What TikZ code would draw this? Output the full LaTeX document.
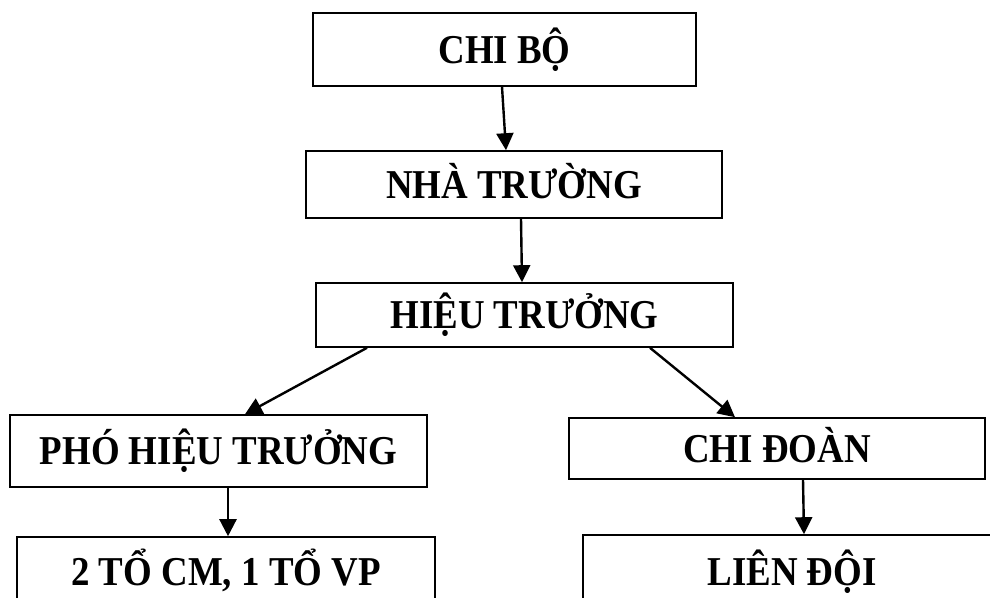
\documentclass[tikz,border=0pt]{standalone}
\usepackage{fontspec}
\setmainfont[FakeStretch=0.9]{Liberation Serif}
\usetikzlibrary{arrows.meta}
\begin{document}
\begin{tikzpicture}[x=1pt,y=-1pt,
  box/.style={draw, line width=1.6pt, inner sep=0pt,
    font=\fontsize{41}{48}\selectfont\bfseries,
    text height=27pt, text depth=0pt, align=center},
  conn/.style={line width=2.4pt, -{Triangle[length=17pt,width=17pt]}}]
\useasboundingbox (0,0) rectangle (990,597);
\clip (0,0) rectangle (990,597);
\node[box, minimum width=383pt, minimum height=73pt] (b1) at (504.5,49.5) {CHI BỘ};
\node[box, minimum width=416pt, minimum height=67pt] (b2) at (514,184.5) {NHÀ TRƯỜNG};
\node[box, minimum width=417pt, minimum height=64pt] (b3) at (524.5,315) {HIỆU TRƯỞNG};
\node[box, minimum width=417pt, minimum height=72pt] (b4) at (218.5,451) {PHÓ HIỆU TRƯỞNG};
\node[box, minimum width=416pt, minimum height=61pt] (b5) at (777,448.5) {CHI ĐOÀN};
\node[box, minimum width=418pt, minimum height=70pt] (b6) at (226,572) {2 TỔ CM, 1 TỔ VP};
\node[box, minimum width=418pt, minimum height=74pt] (b7) at (792,572) {LIÊN ĐỘI};
\draw[conn] ([xshift=-2.5pt]b1.south) -- ([xshift=-8pt]b2.north);
\draw[conn] ([xshift=7pt]b2.south) -- ([xshift=-2.5pt]b3.north);
\draw[conn] ([xshift=-157.5pt]b3.south) -- ([xshift=26.5pt]b4.north);
\draw[conn] ([xshift=125.5pt]b3.south) -- ([xshift=-42pt]b5.north);
\draw[conn] ([xshift=9.5pt]b4.south) -- ([xshift=2pt]b6.north);
\draw[conn] ([xshift=26pt]b5.south) -- ([xshift=12pt]b7.north);
\end{tikzpicture}
\end{document}
